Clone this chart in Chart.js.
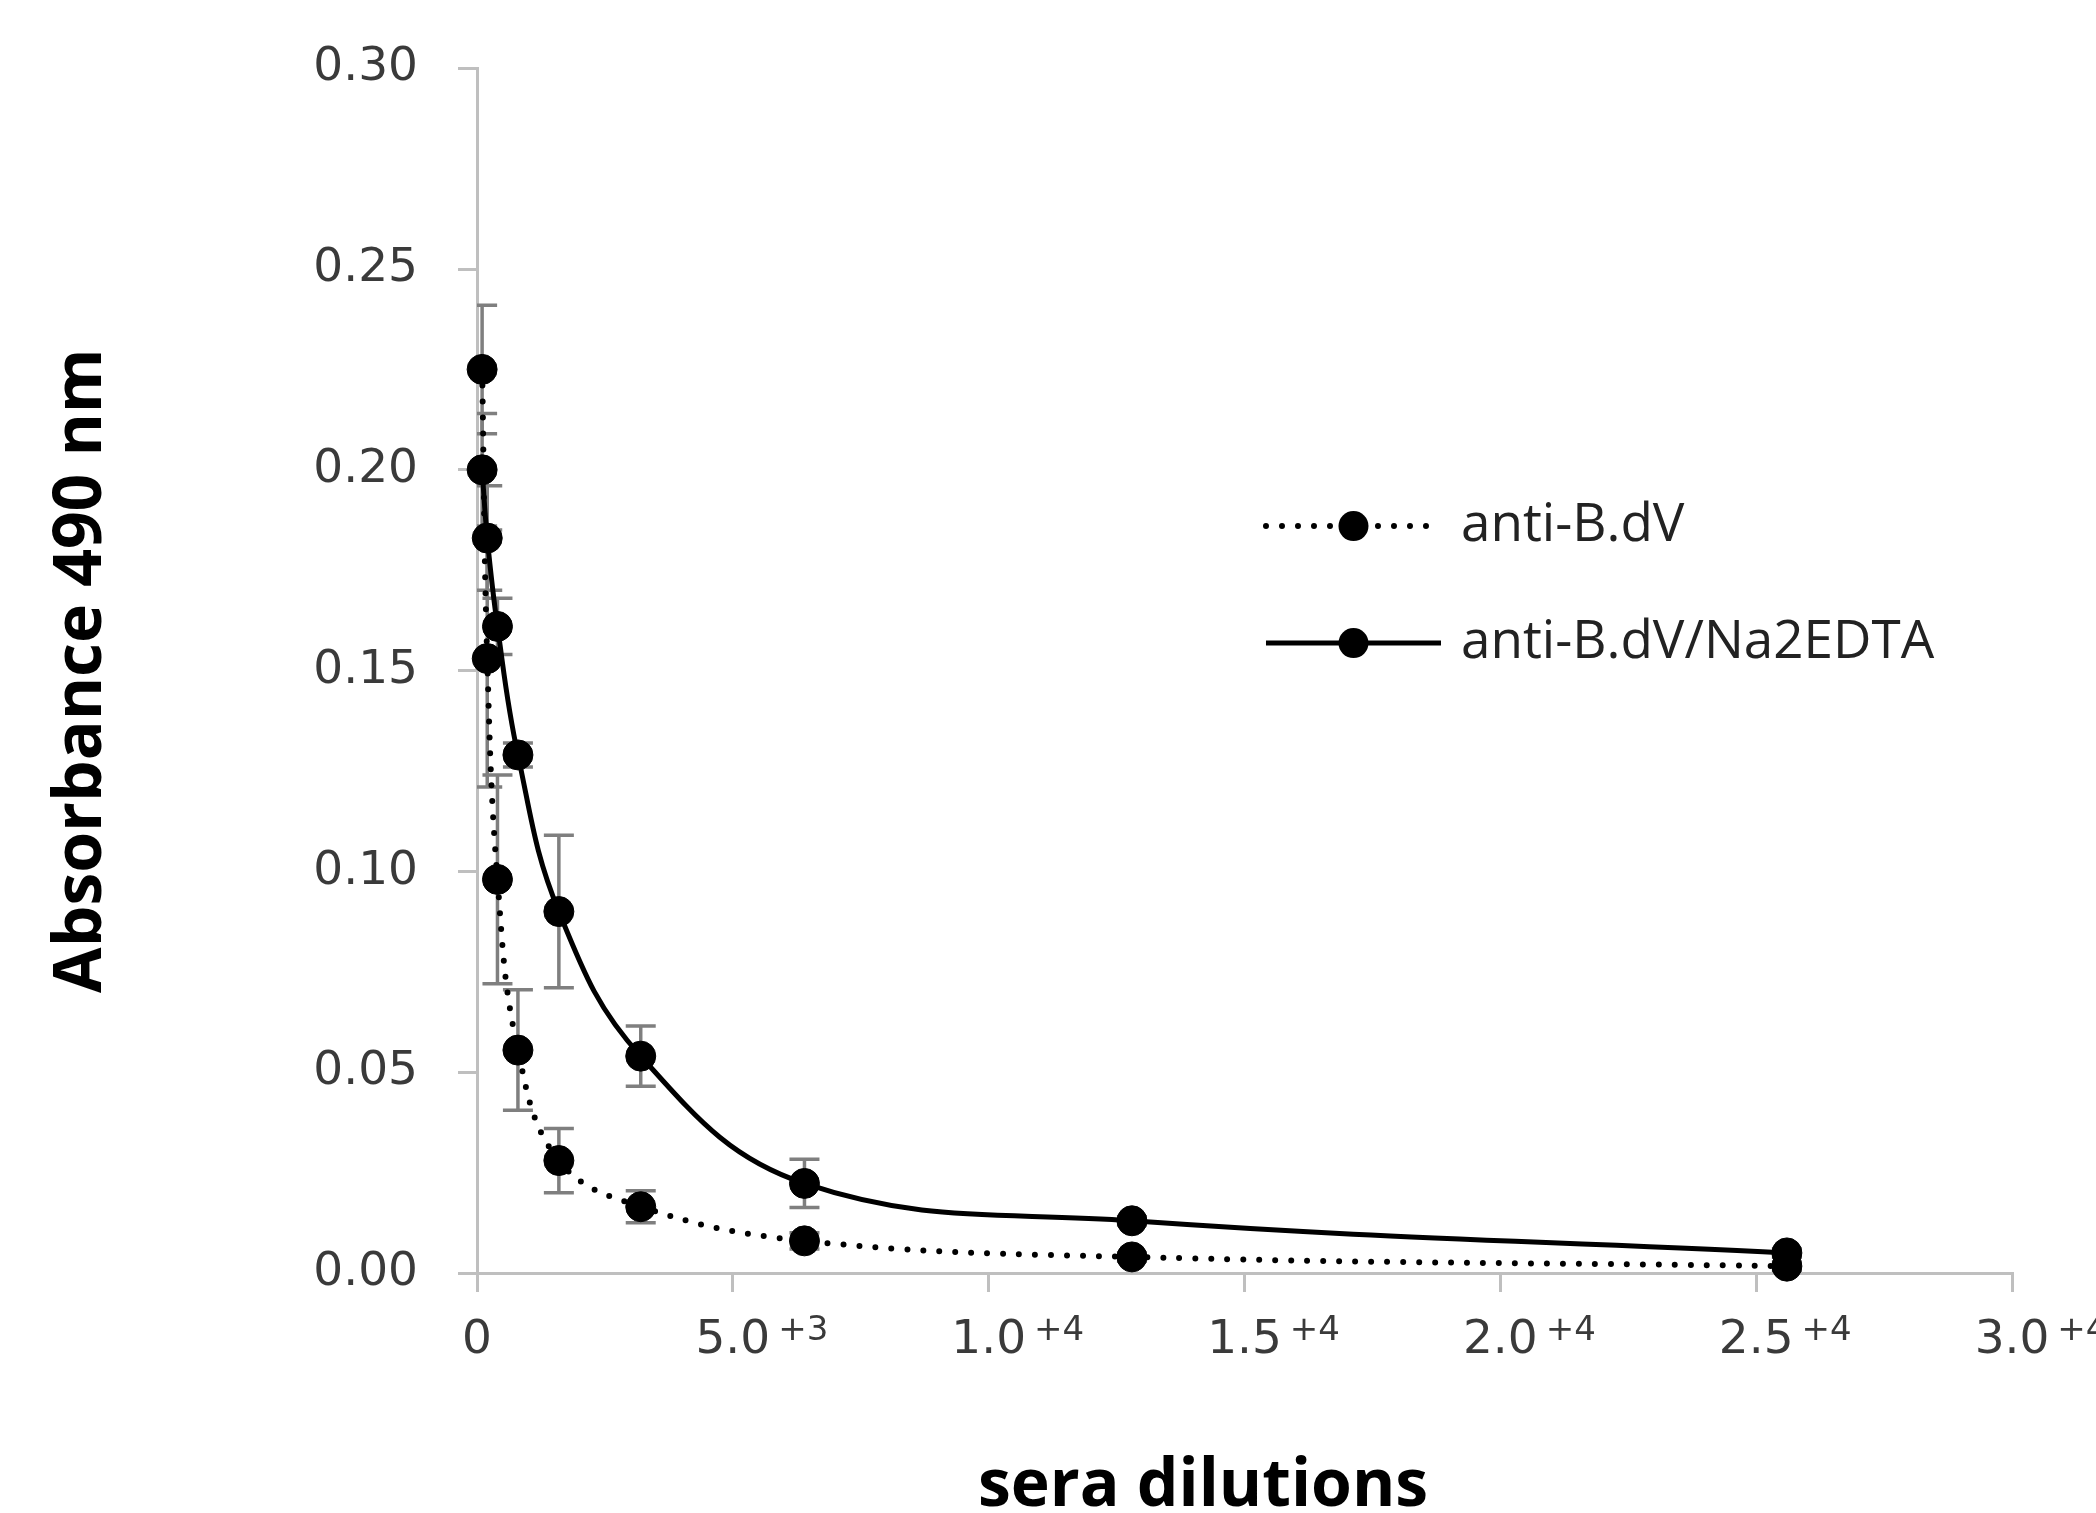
<!DOCTYPE html>
<html>
<head>
<meta charset="utf-8">
<script src="https://cdn.jsdelivr.net/npm/chart.js@4.4.1/dist/chart.umd.min.js"></script>
<style>
  html, body { margin: 0; padding: 0; background: #fff; }
  #wrap { width: 2096px; height: 1513px; }
</style>
</head>
<body>
<div id="wrap"><canvas id="dilutionChart" width="2096" height="1513"></canvas></div>
<script>
// reciprocal sera dilutions
const dilutions = [100, 200, 400, 800, 1600, 3200, 6400, 12800, 25600];

// absorbance 490 nm, mean and error
const antiBdV = [0.225, 0.153, 0.098, 0.0555, 0.028, 0.0165, 0.008, 0.004, 0.0017];
const antiBdVErr = [0.016, 0.032, 0.026, 0.015, 0.008, 0.004, 0.002, 0.001, 0.001];

const antiBdVEdta = [0.200, 0.183, 0.161, 0.129, 0.090, 0.054, 0.0223, 0.013, 0.005];
const antiBdVEdtaErr = [0.014, 0.013, 0.007, 0.003, 0.019, 0.0075, 0.006, 0.001, 0.001];

const seriesNames = ['anti-B.dV', 'anti-B.dV/Na2EDTA'];

const xTickLabels = ['0', '5.0', '1.0', '1.5', '2.0', '2.5', '3.0'];
const xTickExps = ['', '+3', '+4', '+4', '+4', '+4', '+4'];
const yTickLabels = ['0.00', '0.05', '0.10', '0.15', '0.20', '0.25', '0.30'];

const xTitleText = 'sera dilutions';
const yTitleText = 'Absorbance 490 nm';

const TICK_FONT = 47;
const TICK_LEN = 19;
const X_TICK_PAD = 21;

/**
 * Gray error bars, drawn under the lines and markers
 */
const errorBars = {
  id: 'errorBars',
  beforeDatasetsDraw(chart) {
    const { ctx, chartArea: a, scales: { x, y } } = chart;
    ctx.save();
    ctx.beginPath();
    ctx.rect(a.left, a.top, a.width, a.height);
    ctx.clip();
    ctx.strokeStyle = '#7f7f7f';
    ctx.lineWidth = 3.5;
    chart.data.datasets.forEach((ds) => {
      if (!ds.errors) return;
      ds.data.forEach((pt, j) => {
        const e = ds.errors[j];
        const px = x.getPixelForValue(pt.x);
        const top = y.getPixelForValue(pt.y + e);
        const bot = y.getPixelForValue(pt.y - e);
        ctx.beginPath();
        ctx.moveTo(px, top);
        ctx.lineTo(px, bot);
        ctx.moveTo(px - 15, top);
        ctx.lineTo(px + 15, top);
        ctx.moveTo(px - 15, bot);
        ctx.lineTo(px + 15, bot);
        ctx.stroke();
      });
    });
    ctx.restore();
  },
};

/**
 * Superscript exponents next to the x tick labels (5.0 +3 etc)
 */
const tickExponents = {
  id: 'tickExponents',
  afterDraw(chart) {
    const { ctx } = chart;
    const xs = chart.scales.x;
    const mid = xs.top + TICK_LEN + X_TICK_PAD + (TICK_FONT * 1.2) / 2;
    ctx.save();
    ctx.fillStyle = '#3a3a3a';
    ctx.textAlign = 'left';
    ctx.textBaseline = 'alphabetic';
    xs.ticks.forEach((t, i) => {
      const exp = xTickExps[i];
      if (!exp) return;
      const px = xs.getPixelForValue(t.value);
      ctx.font = TICK_FONT + 'px "DejaVu Sans"';
      const w = ctx.measureText(xTickLabels[i]).width;
      ctx.font = '34px "DejaVu Sans"';
      ctx.fillText(exp, px + w / 2 + 8, mid - 1);
    });
    ctx.restore();
  },
};

/**
 * Legend inside the plot: line sample + marker + label
 */
const insideLegend = {
  id: 'insideLegend',
  afterDraw(chart) {
    const { ctx, chartArea: a } = chart;
    const x0 = a.left + a.width * 0.514;
    const len = 175;
    chart.data.datasets.forEach((ds, i) => {
      const yy = a.top + a.height * 0.38 + i * 117;
      ctx.save();
      ctx.strokeStyle = '#000';
      ctx.fillStyle = '#000';
      ctx.lineWidth = ds.borderWidth;
      ctx.lineCap = ds.borderCapStyle || 'butt';
      ctx.setLineDash(ds.borderDash || []);
      ctx.beginPath();
      ctx.moveTo(x0, yy);
      ctx.lineTo(x0 + len, yy);
      ctx.stroke();
      ctx.setLineDash([]);
      ctx.beginPath();
      ctx.arc(x0 + len / 2, yy, ds.pointRadius, 0, Math.PI * 2);
      ctx.fill();
      ctx.fillStyle = '#222';
      ctx.font = '53px "Open Sans"';
      ctx.textBaseline = 'middle';
      ctx.fillText(ds.label, x0 + len + 20, yy);
      ctx.restore();
    });
  },
};

/**
 * X axis title, a bit left of the plot centre as in the original
 */
const xAxisTitle = {
  id: 'xAxisTitle',
  afterDraw(chart) {
    const { ctx, chartArea: a } = chart;
    ctx.save();
    ctx.font = 'bold 66px "Open Sans"';
    ctx.fillStyle = '#000';
    ctx.textAlign = 'center';
    ctx.textBaseline = 'alphabetic';
    ctx.fillText(xTitleText, a.left + a.width * 0.473, chart.height - 7);
    ctx.restore();
  },
};

const ctx = document.getElementById('dilutionChart').getContext('2d');

new Chart(ctx, {
  type: 'line',
  data: {
    datasets: [
      {
        label: seriesNames[0],
        data: dilutions.map((d, i) => ({ x: d, y: antiBdV[i] })),
        errors: antiBdVErr,
        borderColor: '#000',
        borderWidth: 6,
        borderDash: [0, 16],
        borderCapStyle: 'round',
        pointRadius: 15,
        pointBackgroundColor: '#000',
        pointBorderColor: '#000',
        pointBorderWidth: 1,
        tension: 0.4,
        clip: false,
      },
      {
        label: seriesNames[1],
        data: dilutions.map((d, i) => ({ x: d, y: antiBdVEdta[i] })),
        errors: antiBdVEdtaErr,
        borderColor: '#000',
        borderWidth: 5,
        borderCapStyle: 'butt',
        pointRadius: 15,
        pointBackgroundColor: '#000',
        pointBorderColor: '#000',
        pointBorderWidth: 1,
        tension: 0.4,
        clip: false,
      },
    ],
  },
  options: {
    responsive: false,
    animation: false,
    devicePixelRatio: 1,
    layout: { padding: { top: 67, right: 84, left: 0, bottom: 0 } },
    plugins: {
      legend: { display: false },
      tooltip: { enabled: false },
    },
    scales: {
      x: {
        type: 'linear',
        min: 0,
        max: 30000,
        border: { color: '#bfbfbf', width: 3 },
        grid: { drawOnChartArea: false, color: '#bfbfbf', lineWidth: 3, tickLength: TICK_LEN },
        ticks: {
          stepSize: 5000,
          autoSkip: false,
          maxRotation: 0,
          padding: X_TICK_PAD,
          color: '#3a3a3a',
          font: { family: 'DejaVu Sans', size: TICK_FONT },
          callback: (v, i) => xTickLabels[i],
        },
        afterFit: (scale) => { scale.height = 240; },
      },
      y: {
        min: 0,
        max: 0.3,
        border: { color: '#bfbfbf', width: 3 },
        grid: { drawOnChartArea: false, color: '#bfbfbf', lineWidth: 3, tickLength: TICK_LEN },
        ticks: {
          stepSize: 0.05,
          padding: 40,
          color: '#3a3a3a',
          font: { family: 'DejaVu Sans', size: TICK_FONT },
          callback: (v, i) => yTickLabels[i],
        },
        title: {
          display: true,
          text: yTitleText,
          color: '#000',
          font: { family: 'Open Sans', size: 66, weight: 'bold' },
          padding: { top: 43, bottom: 0 },
        },
        afterFit: (scale) => { scale.width = 477; },
      },
    },
  },
  plugins: [errorBars, tickExponents, insideLegend, xAxisTitle],
});
</script>
</body>
</html>
